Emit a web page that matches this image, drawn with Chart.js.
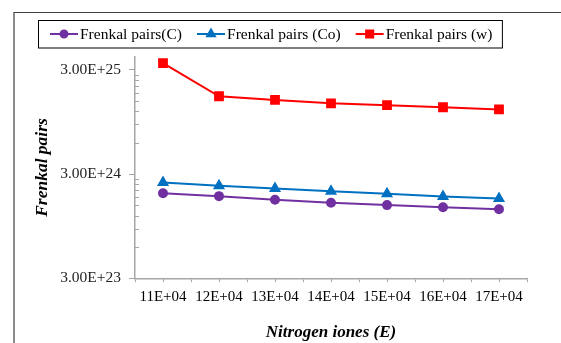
<!DOCTYPE html>
<html>
<head>
<meta charset="utf-8">
<script src="https://cdn.jsdelivr.net/npm/chart.js@4"></script>
<style>
  html, body { margin: 0; padding: 0; background: #fff; }
  #wrap { width: 561px; height: 343px; position: relative; }
</style>
</head>
<body>
<div id="wrap"><canvas id="chart" width="561" height="343"></canvas></div>
<script>
// categories (x) and series values
const categories = ['11E+04', '12E+04', '13E+04', '14E+04', '15E+04', '16E+04', '17E+04'];
const pairsC  = [1.96e24, 1.84e24, 1.70e24, 1.59e24, 1.51e24, 1.44e24, 1.38e24];
const pairsCo = [2.49e24, 2.31e24, 2.18e24, 2.05e24, 1.94e24, 1.83e24, 1.75e24];
const pairsW  = [3.47e25, 1.67e25, 1.54e25, 1.43e25, 1.37e25, 1.31e25, 1.25e25];

// y axis (log) major ticks and their labels
const yMajorTicks = [3e23, 3e24, 3e25];
const yTickLabels = ['3.00E+23', '3.00E+24', '3.00E+25'];
const yMin = 3e23, yMax = 4e25;

const serif = '"Liberation Serif", "Times New Roman", serif';
const axisColor = '#a6a6a6';

function isMajor(v) {
    return yMajorTicks.some(m => Math.abs(v - m) / m < 1e-6);
}

// outer frame, legend box, minor ticks
const decor = {
    id: 'decor',
    afterDraw(chart) {
        const ctx = chart.ctx;
        const ys = chart.scales.y, xs = chart.scales.x;
        ctx.save();

        // outer frame (top + left edge visible)
        ctx.strokeStyle = '#404040';
        ctx.lineWidth = 1.2;
        ctx.beginPath();
        ctx.moveTo(14, 343);
        ctx.lineTo(14, 12.5);
        ctx.lineTo(561, 12.5);
        ctx.stroke();

        // minor y ticks, drawn inward
        ctx.strokeStyle = axisColor;
        ctx.lineWidth = 1;
        ys.ticks.forEach(t => {
            if (isMajor(t.value)) return;
            const py = Math.round(ys.getPixelForValue(t.value)) + 0.5;
            ctx.beginPath();
            ctx.moveTo(ys.right, py);
            ctx.lineTo(ys.right + 4, py);
            ctx.stroke();
        });
        // x ticks at category centres
        xs.ticks.forEach((t, i) => {
            const px = Math.round(xs.getPixelForTick(i)) + 0.5;
            ctx.beginPath();
            ctx.moveTo(px, xs.top);
            ctx.lineTo(px, xs.top + 4);
            ctx.stroke();
        });

        // legend
        ctx.font = '15.5px ' + serif;
        ctx.textBaseline = 'middle';
        ctx.textAlign = 'left';
        const ly = 34;
        let x = 50;
        chart.data.datasets.forEach(ds => {
            ctx.strokeStyle = ds.borderColor;
            ctx.lineWidth = 2;
            ctx.beginPath();
            ctx.moveTo(x, ly);
            ctx.lineTo(x + 28, ly);
            ctx.stroke();
            ctx.fillStyle = ds.backgroundColor;
            ctx.strokeStyle = ds.borderColor;
            Chart.helpers.drawPoint(ctx, {
                pointStyle: ds.pointStyle, radius: ds.pointRadius - 0.5,
                rotation: 0, borderWidth: 1
            }, x + 14, ly);
            ctx.fillStyle = '#000';
            ctx.fillText(ds.label, x + 30, ly + 1);
            x = x + 30 + ctx.measureText(ds.label).width + 15;
        });
        ctx.strokeStyle = '#000';
        ctx.lineWidth = 1;
        ctx.strokeRect(38.5, 20.5, x - 15 + 10 - 38.5, 27.5);
        ctx.restore();
    }
};

new Chart(document.getElementById('chart'), {
    type: 'line',
    data: {
        labels: categories,
        datasets: [
            {
                label: 'Frenkal pairs(C)',
                data: pairsC,
                borderColor: '#7030a0',
                backgroundColor: '#7030a0',
                pointStyle: 'circle',
                pointRadius: 4,
                borderWidth: 2
            },
            {
                label: 'Frenkal pairs (Co)',
                data: pairsCo,
                borderColor: '#0070c0',
                backgroundColor: '#0070c0',
                pointStyle: 'triangle',
                pointRadius: 5,
                borderWidth: 2
            },
            {
                label: 'Frenkal pairs (w)',
                data: pairsW,
                borderColor: '#ff0000',
                backgroundColor: '#ff0000',
                pointStyle: 'rect',
                pointRadius: 5.5,
                borderWidth: 2
            }
        ]
    },
    options: {
        responsive: false,
        animation: false,
        layout: { padding: { top: 56.7, right: 34, bottom: 0, left: 0 } },
        plugins: {
            legend: { display: false },
            tooltip: { enabled: false }
        },
        scales: {
            x: {
                type: 'category',
                offset: true,
                grid: {
                    offset: true,
                    drawOnChartArea: false,
                    drawTicks: true,
                    tickLength: 4,
                    color: axisColor
                },
                border: { display: true, color: axisColor, width: 1.5 },
                ticks: {
                    autoSkip: false,
                    maxRotation: 0,
                    padding: 6,
                    color: '#000',
                    font: { family: serif, size: 15 }
                },
                title: {
                    display: true,
                    text: 'Nitrogen iones (E)',
                    color: '#000',
                    font: { family: serif, size: 17, style: 'italic', weight: 'bold' },
                    padding: { top: 1, bottom: 0 }
                },
                afterFit(scale) { scale.height = 343 - 278.3; }
            },
            y: {
                type: 'logarithmic',
                min: yMin,
                max: yMax,
                bounds: 'data',
                afterBuildTicks(scale) {
                    const ticks = [];
                    yMajorTicks.forEach(m => {
                        for (let k = 1; k <= 9; k++) {
                            const v = m * k;
                            if (v >= yMin * 0.999 && v <= yMax * 1.001 && (k === 1 || v < m * 10)) {
                                ticks.push({ value: v, major: k === 1 });
                            }
                        }
                    });
                    scale.ticks = ticks;
                },
                grid: {
                    drawOnChartArea: false,
                    drawTicks: true,
                    tickLength: 6,
                    color: ctx => (ctx.tick && isMajor(ctx.tick.value)) ? axisColor : 'rgba(0,0,0,0)'
                },
                border: { display: true, color: axisColor, width: 1.5 },
                ticks: {
                    autoSkip: false,
                    padding: 8,
                    color: '#222',
                    font: { family: serif, size: 15.5 },
                    callback: function (value) {
                        const i = yMajorTicks.findIndex(m => Math.abs(value - m) / m < 1e-6);
                        return i >= 0 ? yTickLabels[i] : '';
                    }
                },
                title: {
                    display: true,
                    text: 'Frenkal pairs',
                    color: '#000',
                    font: { family: serif, size: 17.5, style: 'italic', weight: 'bold' },
                    padding: { top: 32, bottom: 0 }
                },
                afterFit(scale) { scale.width = 135; }
            }
        }
    },
    plugins: [decor]
});
</script>
</body>
</html>
